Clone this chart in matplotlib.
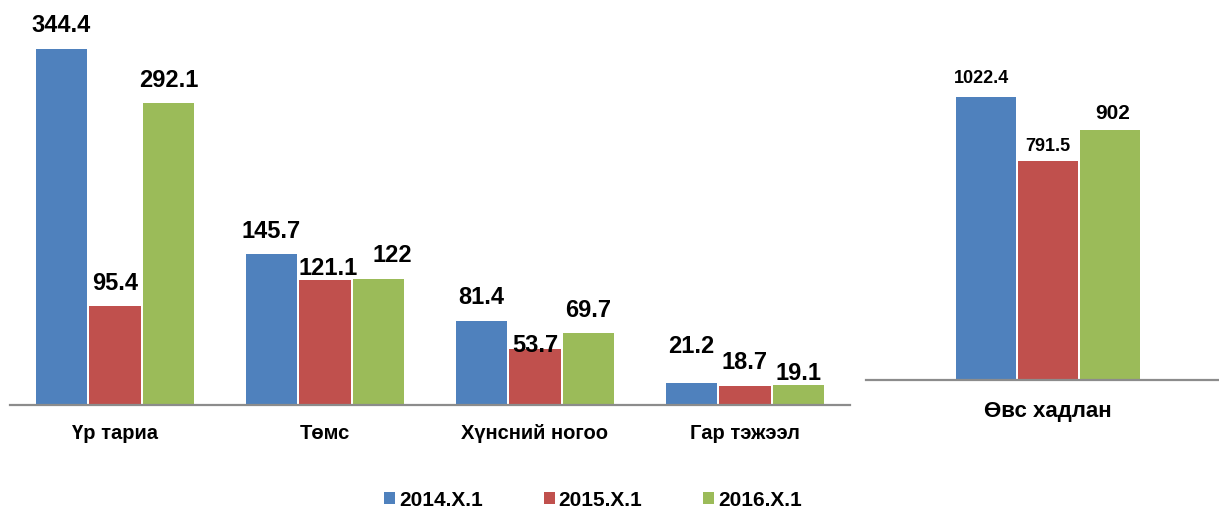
import matplotlib
matplotlib.use("Agg")
import matplotlib.pyplot as plt
from matplotlib.patches import Patch
import numpy as np

plt.rcParams['font.family'] = ['Liberation Sans', 'DejaVu Sans']

# ---- data ----
categories = ["Үр тариа", "Төмс", "Хүнсний ногоо", "Гар тэжээл"]
right_category = ["Өвс хадлан"]
series_names = ["2014.X.1", "2015.X.1", "2016.X.1"]
v2014 = [344.4, 145.7, 81.4, 21.2]
v2015 = [95.4, 121.1, 53.7, 18.7]
v2016 = [292.1, 122, 69.7, 19.1]
right_2014 = [1022.4]
right_2015 = [791.5]
right_2016 = [902]

colors = ["#4F81BD", "#C0504D", "#9BBB59"]

# label placement (style): baseline offset above bar top (px), horizontal shift (px)
left_label_dy = [[17, 16, 17, 30], [16, 5, -3, 17], [16, 17, 16, 5]]
left_label_dx = [[0, 0, 0, 0], [0, 3, 0, 0], [0, 14, 0, 0]]
right_label_dy = [14, 10, 11]
right_label_dx = [-4, 0, 2]
right_label_size = [13, 13, 15]

W, H = 1219, 508
fig = plt.figure(figsize=(W / 100, H / 100), dpi=100)

px2pt = 0.72

def fx(px):
    return px / W

def fy(px):
    return 1 - px / H

axis_color = "#8C8C8C"

# ---- left axes ----
axL = fig.add_axes([fx(10), fy(405), fx(840), (405 - 5) / H])
x = np.arange(len(categories))
bw = 0.245
off = 0.255
left_series = [v2014, v2015, v2016]
for i, vals in enumerate(left_series):
    xs = x + (i - 1) * off
    axL.bar(xs, vals, width=bw, color=colors[i], zorder=2)
    for j, (xx, v) in enumerate(zip(xs, vals)):
        axL.annotate(f"{v:g}", xy=(xx, v),
                     xytext=(left_label_dx[i][j] * px2pt, left_label_dy[i][j] * px2pt),
                     textcoords="offset points", ha="center", va="baseline",
                     fontsize=17, fontweight="bold", color="black")
axL.set_xlim(-0.5, len(categories) - 0.5)
axL.set_ylim(0, 400 / 1.034)
axL.set_xticks(x)
axL.set_xticklabels(categories, fontsize=14.5, fontweight="bold")
axL.tick_params(axis="x", length=0, pad=14)
axL.set_yticks([])
for s in ["top", "right", "left"]:
    axL.spines[s].set_visible(False)
axL.spines["bottom"].set_color(axis_color)
axL.spines["bottom"].set_linewidth(1.6)
axL.spines["bottom"].set_zorder(3)
axL.patch.set_alpha(0)

# ---- right axes ----
axR = fig.add_axes([fx(866), fy(380), fx(353), (380 - 5) / H])
xr = np.arange(len(right_category))
bwr = 0.17
offr = 0.177
right_series = [right_2014, right_2015, right_2016]
for i, vals in enumerate(right_series):
    xs = xr + (i - 1) * offr
    axR.bar(xs, vals, width=bwr, color=colors[i], zorder=2)
    for xx, v in zip(xs, vals):
        axR.annotate(f"{v:g}", xy=(xx, v),
                     xytext=(right_label_dx[i] * px2pt, right_label_dy[i] * px2pt),
                     textcoords="offset points", ha="center", va="baseline",
                     fontsize=right_label_size[i], fontweight="bold", color="black")
axR.set_xlim(-182 / 353, 171 / 353)
axR.set_ylim(0, 375 / 0.2768)
axR.set_xticks(xr)
axR.set_xticklabels(right_category, fontsize=16, fontweight="bold")
axR.tick_params(axis="x", length=0, pad=15)
axR.set_yticks([])
for s in ["top", "right", "left"]:
    axR.spines[s].set_visible(False)
axR.spines["bottom"].set_color(axis_color)
axR.spines["bottom"].set_linewidth(1.6)
axR.spines["bottom"].set_zorder(3)
axR.patch.set_alpha(0)

# ---- legend ----
handles = [Patch(facecolor=c, edgecolor="none") for c in colors]
leg = fig.legend(handles, series_names, loc="center", bbox_to_anchor=(fx(593), fy(500)),
                 ncol=3, frameon=False, prop={"weight": "bold", "size": 15},
                 handlelength=0.53, handleheight=0.53, handletextpad=0.2,
                 columnspacing=2.9, borderpad=0, borderaxespad=0)

fig.savefig("out.png", dpi=100)
